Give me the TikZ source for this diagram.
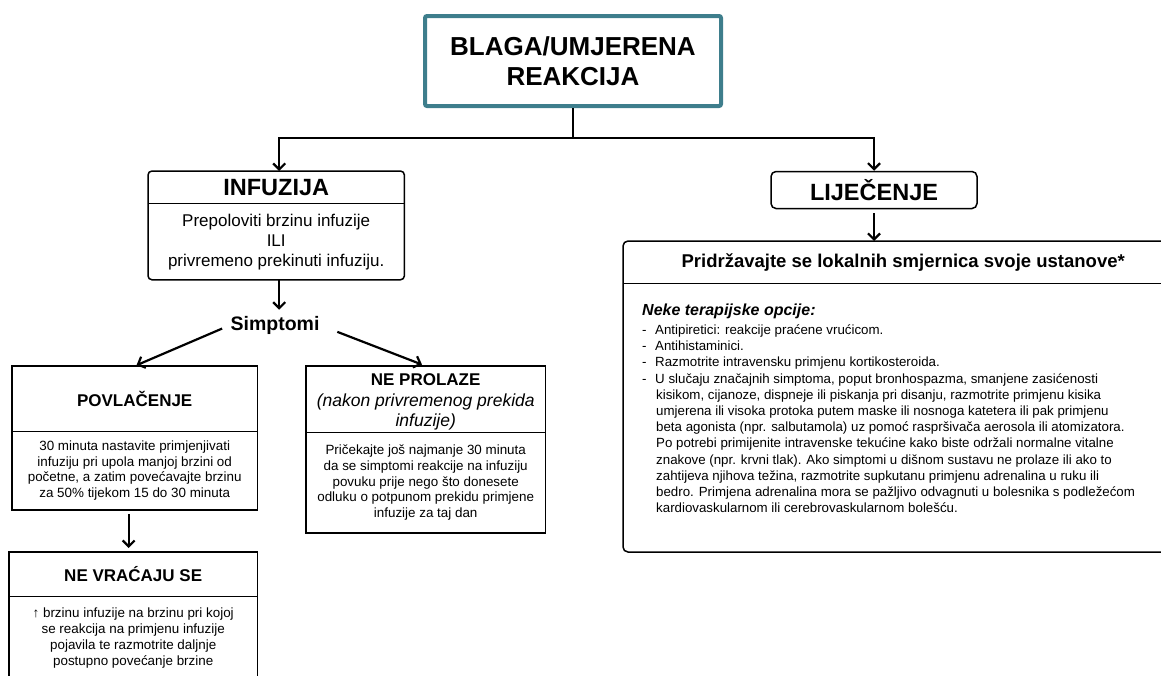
\documentclass[tikz,border=0pt]{standalone}
\usepackage{fontspec}
\setmainfont{Liberation Sans}
\usetikzlibrary{positioning,fit,arrows.meta}
\definecolor{frameteal}{HTML}{3E7E8C}
\newcommand\fsbody{\fontsize{13.4}{15.8}\selectfont}

\begin{document}
\begin{tikzpicture}[x=1pt,y=-1pt,
  box/.style={draw,line width=1.5pt,inner sep=0pt},
  hdr/.style={inner sep=0pt,align=center,font=\bfseries\fontsize{17}{20.5}\selectfont},
  body/.style={inner sep=0pt,align=center,font=\fsbody},
  arr/.style={line width=2.2pt,-{Straight Barb[length=6pt,width=12pt]}},
  link/.style={line width=2.2pt}
]
\useasboundingbox (0,0) rectangle (1161,675);
\clip (0,0) rectangle (1161,675);

% Reaction
\node[draw=frameteal,line width=4pt,rounded corners=2pt,minimum width=296pt,minimum height=90pt,align=center,
  font=\bfseries\fontsize{26}{30}\selectfont] (top) at (573,61) {BLAGA/UMJERENA\\REAKCIJA};
\coordinate (split) at (573,138);

% Infusion
\node[hdr,font=\bfseries\fontsize{23.5}{27}\selectfont,minimum width=256pt,minimum height=32pt,anchor=north west] (infhdr) at (148,171) {INFUZIJA};
\node[body,font=\fontsize{17}{20}\selectfont,minimum width=256pt,minimum height=76pt,below=0pt of infhdr] (infbody) {Prepoloviti brzinu infuzije\\ILI\\privremeno prekinuti infuziju.};
\node[box,rounded corners=4pt,fit=(infhdr)(infbody)] (inf) {};
\draw[line width=1.5pt] (infhdr.south west) -- (infhdr.south east);

\node[font=\bfseries\fontsize{19.5}{22}\selectfont,inner sep=0pt] (sim) at (275,325) {Simptomi};

% Symptoms subside
\node[hdr,minimum width=245pt,minimum height=65pt,anchor=north west] (povhdr) at (12,366) {POVLAČENJE};
\node[body,minimum width=245pt,minimum height=78pt,below=0pt of povhdr] (povbody) {30 minuta nastavite primjenjivati\\infuziju pri upola manjoj brzini od\\početne, a zatim povećavajte brzinu\\za 50\% tijekom 15 do 30 minuta};
\node[box,fit=(povhdr)(povbody)] (pov) {};
\draw[line width=1.5pt] (povhdr.south west) -- (povhdr.south east);

% Symptoms persist
\node[hdr,minimum width=239pt,minimum height=66pt,anchor=north west] (nprhdr) at (306,366) {\rule{0pt}{18pt}NE PROLAZE\\{\mdseries\itshape\fontsize{17.5}{20.5}\selectfont (nakon privremenog prekida}\\{\mdseries\itshape\fontsize{17.5}{20.5}\selectfont infuzije)}};
\node[body,minimum width=239pt,minimum height=100pt,below=0pt of nprhdr] (nprbody) {Pričekajte još najmanje 30 minuta\\da se simptomi reakcije na infuziju\\povuku prije nego što donesete\\odluku o potpunom prekidu primjene\\infuzije za taj dan};
\node[box,fit=(nprhdr)(nprbody)] (npr) {};
\draw[line width=1.5pt] (nprhdr.south west) -- (nprhdr.south east);

% Symptoms do not return
\node[hdr,minimum width=248pt,minimum height=44pt,anchor=north west] (nvshdr) at (9,552) {NE VRAĆAJU SE};
\node[body,minimum width=248pt,minimum height=83pt,below=0pt of nvshdr] (nvsbody) {↑ brzinu infuzije na brzinu pri kojoj\\se reakcija na primjenu infuzije\\pojavila te razmotrite daljnje\\postupno povećanje brzine};
\node[box,fit=(nvshdr)(nvsbody)] (nvs) {};
\draw[line width=1.5pt] (nvshdr.south west) -- (nvshdr.south east);

% Treatment
\node[draw,line width=1.5pt,rounded corners=5pt,minimum width=206pt,minimum height=37pt,font=\bfseries\fontsize{23.5}{27}\selectfont] (lij) at (874,190) {LIJEČENJE};

\node[hdr,font=\bfseries\fontsize{18.5}{22}\selectfont,minimum width=560pt,minimum height=42pt,anchor=north west] (smjhdr) at (623,241) {Pridržavajte se lokalnih smjernica svoje ustanove*};
\node[body,font=\fontsize{13.3}{16.2}\selectfont,align=left,anchor=north west,inner xsep=19pt,inner ysep=20pt] (smjbody) at (smjhdr.south west) {%
{\bfseries\itshape\fontsize{16}{19}\selectfont Neke terapijske opcije:}\\[3pt]
\makebox[13pt][l]{-}Antipiretici: reakcije praćene vrućicom.\\
\makebox[13pt][l]{-}Antihistaminici.\\
\makebox[13pt][l]{-}Razmotrite intravensku primjenu kortikosteroida.\\
\makebox[13pt][l]{-}U slučaju značajnih simptoma, poput bronhospazma, smanjene zasićenosti\\
\hspace*{14pt}kisikom, cijanoze, dispneje ili piskanja pri disanju, razmotrite primjenu kisika\\
\hspace*{14pt}umjerena ili visoka protoka putem maske ili nosnoga katetera ili pak primjenu\\
\hspace*{14pt}beta agonista (npr. salbutamola) uz pomoć raspršivača aerosola ili atomizatora.\\
\hspace*{14pt}Po potrebi primijenite intravenske tekućine kako biste održali normalne vitalne\\
\hspace*{14pt}znakove (npr. krvni tlak). Ako simptomi u dišnom sustavu ne prolaze ili ako to\\
\hspace*{14pt}zahtijeva njihova težina, razmotrite supkutanu primjenu adrenalina u ruku ili\\
\hspace*{14pt}bedro. Primjena adrenalina mora se pažljivo odvagnuti u bolesnika s podležećom\\
\hspace*{14pt}kardiovaskularnom ili cerebrovaskularnom bolešću.};
\coordinate (smjend) at (1183,552);
\node[box,rounded corners=5pt,fit=(smjhdr)(smjbody)(smjend)] (smj) {};
\draw[line width=1.5pt] (smjhdr.south west) -- (smjhdr.south east);

% Connections
\draw[link] (top.south) -- (split);
\draw[arr] (split) -| ([xshift=3pt]infhdr.north);
\draw[arr] (split) -| (lij.north);
\draw[arr,shorten >=6pt] ([xshift=3pt]infbody.south) -- ([xshift=3pt]infbody.south |- sim.north);
\draw[arr,shorten <=9pt,shorten >=2pt] (sim.west) -- (povhdr.north);
\draw[arr,shorten <=19pt,shorten >=4pt] (sim.east) -- (nprhdr.north);
\draw[arr,shorten <=4pt,shorten >=4pt] ([xshift=-6pt]povbody.south) -- ([xshift=-6pt]povbody.south |- nvshdr.north);
\draw[arr,shorten <=4pt] (lij.south) -- (lij.south |- smjhdr.north);
\end{tikzpicture}
\end{document}
